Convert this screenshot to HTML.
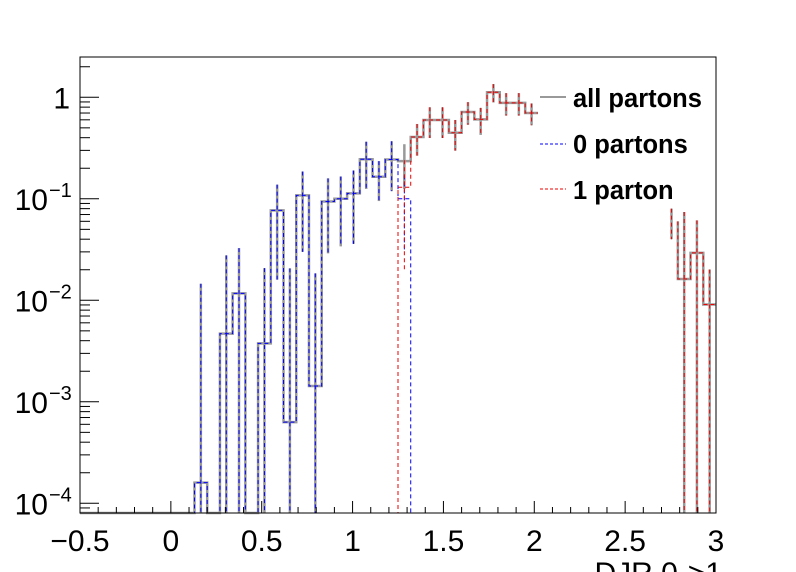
<!DOCTYPE html>
<html><head><meta charset="utf-8"><style>
html,body{margin:0;padding:0;background:#fff}
svg{display:block;font-family:"Liberation Sans",Arial,sans-serif}
</style></head><body>
<svg id="chart" width="796" height="572" viewBox="0 0 796 572">
<rect x="0" y="0" width="796" height="572" fill="#fff"/>
<g id="plot"></g>
<rect x="80" y="57" width="636" height="456" fill="none" stroke="#000" stroke-width="1"/>
<g id="axes"></g>
<g>
 <g>
  <line x1="540" y1="97" x2="566" y2="97" stroke="#999" stroke-width="2"/>
  <text x="573" y="107" font-size="25.5" font-weight="bold">all partons</text></g>
 <g>
  <line x1="540" y1="144" x2="566" y2="144" stroke="#00f" stroke-width="1" stroke-dasharray="3,2"/>
  <text x="573" y="153" font-size="25.5" font-weight="bold">0 partons</text></g>
 <g>
  <line x1="540" y1="189" x2="566" y2="189" stroke="#e00" stroke-width="1" stroke-dasharray="3,2"/>
  <text x="573" y="199" font-size="25.5" font-weight="bold">1 parton</text></g>
</g>
<text x="722" y="583" font-size="30" text-anchor="end">DJR 0-&gt;1</text>
</svg>
<script>
const binLow = -0.5;
const binWidth = 0.07;
const allValues = [0,0,0,0,0,0,0,0,0,1.6e-4,0,4.7e-3,0.0117,0,3.76e-3,0.077,6.3e-4,0.108,1.43e-3,0.094,0.1,0.113,0.245,0.165,0.244,0.235,0.406,0.597,0.597,0.448,0.716,0.606,1.12,0.88,0.88,0.70,null,null,null,null,null,null,null,null,null,null,0.06,0.0162,0.0293,0.0091];
const allErrors = [0,0,0,0,0,0,0,0,0,0.0144,0,0.023,0.021,0,0.017,0.061,0.020,0.078,0.017,0.065,0.066,0.077,0.12,0.07,0.125,0.11,0.14,0.2,0.2,0.15,0.18,0.18,0.23,0.22,0.22,0.17,0,0,0,0,0,0,0,0,0,0,0.02,0.058,0.032,0.011];
const zeroValues = [0,0,0,0,0,0,0,0,0,1.6e-4,0,4.7e-3,0.0117,0,3.76e-3,0.077,6.3e-4,0.108,1.43e-3,0.094,0.1,0.113,0.245,0.165,0.244,0.1,0,0,0,0,0,0,0,0,0,0,null,null,null,null,null,null,null,null,null,null,null,0,0,0];
const zeroErrors = [0,0,0,0,0,0,0,0,0,0.0144,0,0.023,0.021,0,0.017,0.061,0.020,0.078,0.017,0.065,0.066,0.077,0.12,0.07,0.125,0.07,0,0,0,0,0,0,0,0,0,0,0,0,0,0,0,0,0,0,0,0,0,0,0,0];
const oneValues = [0,0,0,0,0,0,0,0,0,0,0,0,0,0,0,0,0,0,0,0,0,0,0,0,0,0.13,0.406,0.597,0.597,0.448,0.716,0.606,1.12,0.88,0.88,0.70,null,null,null,null,null,null,null,null,null,null,0.06,0.0162,0.0293,0.0091];
const oneErrors = [0,0,0,0,0,0,0,0,0,0,0,0,0,0,0,0,0,0,0,0,0,0,0,0,0,0.11,0.14,0.2,0.2,0.15,0.18,0.18,0.23,0.22,0.22,0.17,0,0,0,0,0,0,0,0,0,0,0.02,0.058,0.032,0.011];
const xTicks = [-0.5,0,0.5,1,1.5,2,2.5,3];
const xTickLabels = ["\u22120.5","0","0.5","1","1.5","2","2.5","3"];
const yDecades = [-4,-3,-2,-1,0];
const yTickLabels = ["10","10","10","10","1"];
const yTickExps = ["\u22124","\u22123","\u22122","\u22121",""];

const X0=80,X1=716,Y0=513,Y1=57,XMIN=-0.5,XMAX=3;
const yLogRef=97.3, decade=101.5;
const YMIN=Math.pow(10,(yLogRef-Y0)/decade);
function xs(v){return X0+(v-XMIN)/(XMAX-XMIN)*(X1-X0);}
function ys(v){if(v<=YMIN)return Y0;let y=yLogRef-decade*Math.log10(v);return Math.max(Y1,Math.min(Y0,y));}
const NS="http://www.w3.org/2000/svg";
const plot=document.getElementById('plot'), axes=document.getElementById('axes');
function mk(t,a,p){const e=document.createElementNS(NS,t);for(const k in a)e.setAttribute(k,a[k]);p.appendChild(e);return e;}

function drawHist(vals,errs,color,width,dash,name){
  const g=mk('g',{},plot);
  
  
  let d='',open=false;
  for(let i=0;i<vals.length;i++){
    if(vals[i]===null){open=false;continue;}
    const xa=xs(binLow+i*binWidth), xb=xs(binLow+(i+1)*binWidth), y=ys(vals[i]);
    if(!open){
      if(i>0&&vals[i-1]===null) d+=' M'+xb+','+y;
      else d+=' M'+xa+','+y+' L'+xb+','+y;
      open=true;
    } else d+=' L'+xa+','+y+' L'+xb+','+y;
  }
  const p=mk('path',{d:d.trim(),fill:'none',stroke:color,'stroke-width':width},g);
  if(dash)p.setAttribute('stroke-dasharray',dash);
  
  
  for(let i=0;i<vals.length;i++){
    if(vals[i]===null||!(errs[i]>0))continue;
    const xc=xs(binLow+(i+0.5)*binWidth);
    const l=mk('line',{x1:xc,x2:xc,y1:ys(vals[i]+errs[i]),y2:ys(vals[i]-errs[i]),stroke:color,'stroke-width':width},g);
    if(dash)l.setAttribute('stroke-dasharray',dash);
    
    
  }
}
drawHist(allValues,allErrors,'#999',2.5,null,'all-partons-series');
drawHist(zeroValues,zeroErrors,'#00f',1,'4,3','zero-partons-series');
drawHist(oneValues,oneErrors,'#e00',1,'4,3','one-parton-series');

for(let k=0;k<=35;k++){
  const v=-0.5+k*0.1, x=xs(v), major=(k%5===0);
  const t=mk('line',{x1:x,x2:x,y1:Y0,y2:Y0-(major?12:6),stroke:'#000','stroke-width':1},axes);
  
  
}
xTicks.forEach((v,i)=>{
  const t=mk('text',{x:xs(v),y:551,'font-size':30,'text-anchor':'middle'},axes);
  t.textContent=xTickLabels[i];
  
  
});
for(let d=-5;d<=0;d++){
  for(let m=1;m<=9;m++){
    const v=m*Math.pow(10,d);
    if(v<YMIN||v>2.6)continue;
    const y=ys(v);
    const t=mk('line',{x1:X0,x2:X0+(m===1?19:10),y1:y,y2:y,stroke:'#000','stroke-width':1},axes);
    
    
  }
}
yDecades.forEach((d,i)=>{
  const y=ys(Math.pow(10,d));
  const t=mk('text',{x:yTickExps[i]?48:70,y:y+11,'font-size':30,'text-anchor':'end'},axes);
  t.textContent=yTickLabels[i];
  
  
  if(yTickExps[i]){
    const e=mk('text',{x:49,y:y-2,'font-size':20,'text-anchor':'start'},axes);
    e.textContent=yTickExps[i];
    
    
  }
});
</script>
</body></html>
